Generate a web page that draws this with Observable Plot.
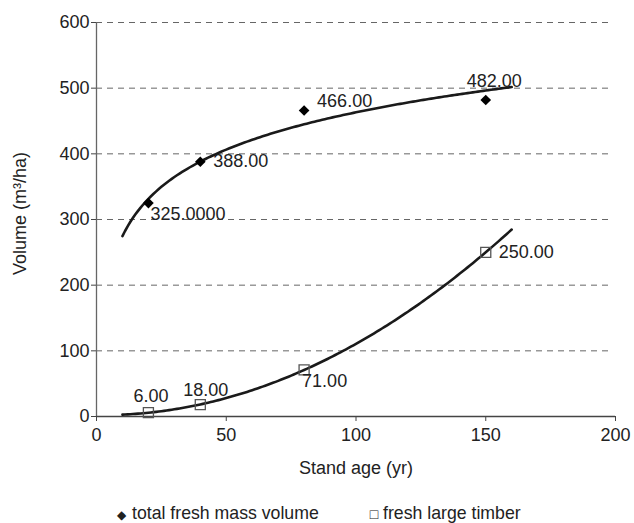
<!DOCTYPE html>
<html>
<head>
<meta charset="utf-8">
<script src="https://cdn.jsdelivr.net/npm/d3@7"></script>
<script src="https://cdn.jsdelivr.net/npm/@observablehq/plot@0.6"></script>
<style>
  html, body { margin: 0; padding: 0; background: #fff; }
  #chart { width: 634px; font-family: "Liberation Sans", Arial, sans-serif; }
  #legend { position: relative; width: 634px; height: 27px; font-family: "Liberation Sans", Arial, sans-serif; font-size: 17.7px; color: #222; }
  #legend > span { position: absolute; top: 8px; line-height: 18px; white-space: nowrap; }
  #legend .sym { display: inline-block; text-align: center; }
</style>
</head>
<body>
<div id="chart"></div>
<div id="legend">
  <span style="left:115px"><span class="sym" style="font-size:12px;width:12px">◆</span><span style="padding-left:5px">total fresh mass volume</span></span>
  <span style="left:369px"><span class="sym" style="font-size:14px;width:10px">□</span><span style="padding-left:4px">fresh large timber</span></span>
</div>
<script>
// ---- data ----
const ages = [20, 40, 80, 150];
const totalVolume = [325, 388, 466, 482];
const largeTimber = [6, 18, 71, 250];
const totalLabels = ["325.0000", "388.00", "466.00", "482.00"];
const timberLabels = ["6.00", "18.00", "71.00", "250.00"];
const xTicks = [0, 50, 100, 150, 200];
const yTicks = [0, 100, 200, 300, 400, 500, 600];
const gridValues = [100, 200, 300, 400, 500, 600];
const trendSpan = [10, 160];
const xTitle = "Stand age (yr)";
const yTitle = "Volume (m³/ha)";

// ---- label offsets (layout only) ----
const totalOffsets = [[2, 11.5], [13, 0], [13, -9], [-19, -19]];
const timberOffsets = [[-15, -16], [-17, -14], [-2, 11], [13, 0]];

// ---- trendlines (least-squares fits of the data, like the original spreadsheet) ----
function logFit(xs, ys) {
  const lx = xs.map(Math.log);
  const mx = d3.mean(lx), my = d3.mean(ys);
  let sxy = 0, sxx = 0;
  lx.forEach((v, i) => { sxy += (v - mx) * (ys[i] - my); sxx += (v - mx) ** 2; });
  const b = sxy / sxx, a = my - b * mx;
  return x => a + b * Math.log(x);
}
function polyFit2(xs, ys) {
  const S = k => d3.sum(xs, x => x ** k);
  const T = k => d3.sum(xs, (x, i) => x ** k * ys[i]);
  const A = [[S(0), S(1), S(2), T(0)], [S(1), S(2), S(3), T(1)], [S(2), S(3), S(4), T(2)]];
  for (let i = 0; i < 3; i++) {
    for (let j = i + 1; j < 3; j++) {
      const f = A[j][i] / A[i][i];
      for (let k = i; k < 4; k++) A[j][k] -= f * A[i][k];
    }
  }
  const c = [0, 0, 0];
  for (let i = 2; i >= 0; i--) {
    let s = A[i][3];
    for (let k = i + 1; k < 3; k++) s -= A[i][k] * c[k];
    c[i] = s / A[i][i];
  }
  return x => c[0] + c[1] * x + c[2] * x * x;
}
const fTotal = logFit(ages, totalVolume);
const fTimber = polyFit2(ages, largeTimber);
const xs = d3.range(trendSpan[0], trendSpan[1] + 0.001, 1);
const totalTrend = xs.map(x => ({x, y: fTotal(x)}));
const timberTrend = xs.map(x => ({x, y: fTimber(x)}));

const totalPts = ages.map((a, i) => ({x: a, y: totalVolume[i], label: totalLabels[i]}));
const timberPts = ages.map((a, i) => ({x: a, y: largeTimber[i], label: timberLabels[i]}));

const ink = "#222";
const marks = [
  Plot.ruleY(gridValues, {x1: 0, x2: 199, stroke: "#666", strokeWidth: 1, strokeDasharray: "6,5"}),
  Plot.ruleX([0], {y1: 0, y2: 600, stroke: "#666", strokeWidth: 1.3}),
  Plot.ruleY([0], {x1: 0, x2: 200, stroke: "#444", strokeWidth: 1.3}),
  Plot.axisX({ticks: xTicks, tickSize: 5, tickPadding: 7, label: null, stroke: "#444"}),
  Plot.axisY({ticks: yTicks, tickSize: 5, tickPadding: 2, label: null, stroke: "#444"}),
  Plot.line(totalTrend, {x: "x", y: "y", stroke: "#1a1a1a", strokeWidth: 2.6}),
  Plot.line(timberTrend, {x: "x", y: "y", stroke: "#1a1a1a", strokeWidth: 2.6}),
  Plot.dot(totalPts, {x: "x", y: "y", symbol: "diamond2", r: 4.8, fill: "#000", stroke: "none"}),
  Plot.dot(timberPts, {x: "x", y: "y", symbol: "square2", r: 6.4, fill: "none", stroke: "#555", strokeWidth: 1.3}),
  ...totalPts.map((d, i) => Plot.text([d], {x: "x", y: "y", text: "label", textAnchor: "start", lineAnchor: "middle", dx: totalOffsets[i][0], dy: totalOffsets[i][1], fill: ink})),
  ...timberPts.map((d, i) => Plot.text([d], {x: "x", y: "y", text: "label", textAnchor: "start", lineAnchor: "middle", dx: timberOffsets[i][0], dy: timberOffsets[i][1], fill: ink})),
  Plot.text([xTitle], {x: 100, frameAnchor: "bottom", dy: 52, lineAnchor: "middle", text: d => d, fill: ink}),
  Plot.text([yTitle], {x: 0, y: 300, dx: -76, dy: -6, rotate: -90, textAnchor: "middle", lineAnchor: "middle", text: d => d, fill: ink})
];

const chart = Plot.plot({
  width: 634,
  height: 496,
  marginLeft: 96,
  marginRight: 19,
  marginTop: 22,
  marginBottom: 80,
  x: {domain: [0, 200]},
  y: {domain: [0, 600]},
  style: {fontFamily: "'Liberation Sans', Arial, sans-serif", fontSize: "18px", color: ink, background: "#fff", overflow: "visible"},
  marks
});
document.getElementById("chart").appendChild(chart);
</script>
</body>
</html>
